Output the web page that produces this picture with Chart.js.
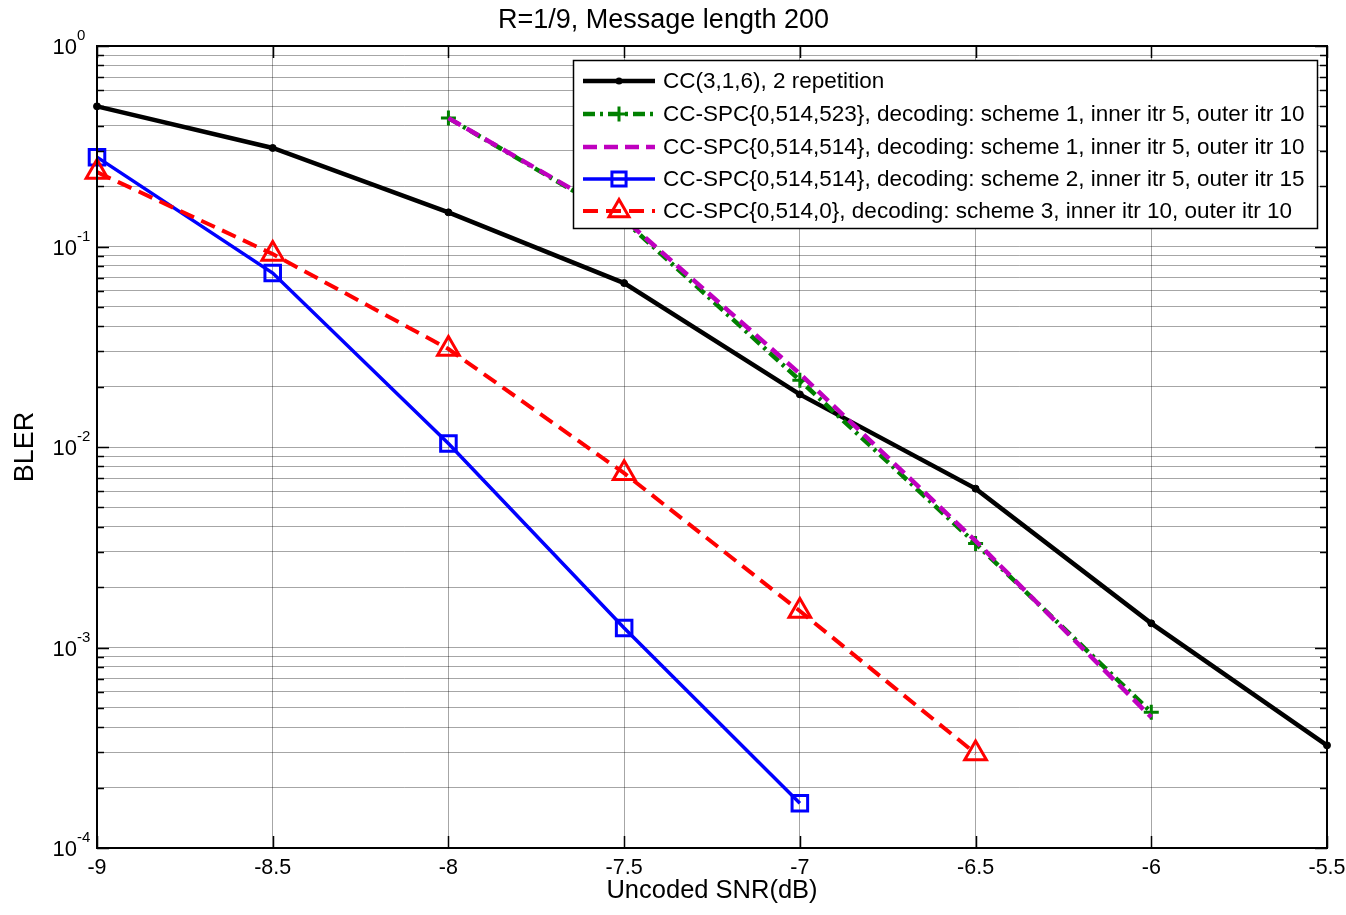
<!DOCTYPE html>
<html>
<head>
<meta charset="utf-8">
<script src="https://cdn.jsdelivr.net/npm/chart.js@4/dist/chart.umd.min.js"></script>
<style>
html,body{margin:0;padding:0;background:#fff;}
#wrap{width:1346px;height:915px;}
</style>
</head>
<body>
<div id="wrap"><canvas id="c" width="1346" height="915"></canvas></div>
<script>
const FONT = '"Liberation Sans", Arial, Helvetica, sans-serif';

// ---- data ----
const titleText = 'R=1/9, Message length 200';
const xTitle = 'Uncoded SNR(dB)';
const yTitle = 'BLER';
const xTicks = [-9, -8.5, -8, -7.5, -7, -6.5, -6, -5.5];
const yDecades = [-4, -3, -2, -1, 0];

const snrCC = [-9, -8.5, -8, -7.5, -7, -6.5, -6, -5.5];
const blerCC = [0.50, 0.31, 0.148, 0.0657, 0.0183, 0.0062, 0.00132, 0.000325];

const snrS1a = [-8, -7.5, -7, -6.5, -6];
const blerS1a = [0.437, 0.135, 0.0215, 0.0033, 0.000475];

const snrS1b = [-8, -7.5, -7, -6.5, -6];
const blerS1b = [0.437, 0.137, 0.0232, 0.0034, 0.000449];

const snrS2 = [-9, -8.5, -8, -7.5, -7];
const blerS2 = [0.279, 0.0737, 0.0104, 0.00125, 0.000167];

const snrS3 = [-9, -8.5, -8, -7.5, -7, -6.5];
const blerS3 = [0.235, 0.0917, 0.0308, 0.0074, 0.00152, 0.000296];

const labels = [
  'CC(3,1,6), 2 repetition',
  'CC-SPC{0,514,523}, decoding: scheme 1, inner itr 5, outer itr 10',
  'CC-SPC{0,514,514}, decoding: scheme 1, inner itr 5, outer itr 10',
  'CC-SPC{0,514,514}, decoding: scheme 2, inner itr 5, outer itr 15',
  'CC-SPC{0,514,0}, decoding: scheme 3, inner itr 10, outer itr 10'
];

function pts(xs, ys){ return xs.map((x,i)=>({x:x, y:ys[i]})); }

const styles = [
  {color:'#000000', width:4.5, dash:[], marker:'dot', r:3.5, order:5},
  {color:'#008000', width:4.5, dash:[12,5,3,5], marker:'plus', r:7.5, order:4},
  {color:'#bf00bf', width:4.5, dash:[14,7], marker:'none', r:0, order:3},
  {color:'#0000ff', width:3.5, dash:[], marker:'square', r:11, order:2},
  {color:'#ff0000', width:4, dash:[15,8], marker:'tri', r:12.5, order:1}
];
const seriesData = [pts(snrCC,blerCC), pts(snrS1a,blerS1a), pts(snrS1b,blerS1b), pts(snrS2,blerS2), pts(snrS3,blerS3)];

function chartStyle(m){
  if (m==='dot') return 'circle';
  if (m==='plus') return 'cross';
  if (m==='square') return 'rect';
  if (m==='tri') return 'triangle';
  return false;
}

const datasets = seriesData.map((d,i)=>{
  const s = styles[i];
  return {
    label: labels[i],
    data: d,
    borderColor: s.color,
    borderWidth: s.width,
    borderDash: s.dash,
    pointStyle: chartStyle(s.marker),
    pointRadius: s.marker==='none'?0:s.r,
    pointBorderColor: s.color,
    pointBackgroundColor: s.marker==='dot'? s.color : 'transparent',
    pointBorderWidth: s.marker==='dot'?1:3,
    tension: 0,
    fill: false,
    clip: false,
    order: s.order
  };
});

function drawMarker(ctx, m, x, y, r, color){
  ctx.save();
  ctx.setLineDash([]);
  ctx.strokeStyle = color; ctx.fillStyle = color; ctx.lineWidth = 3;
  ctx.beginPath();
  if (m==='dot'){ ctx.arc(x,y,r,0,Math.PI*2); ctx.fill(); }
  else if (m==='plus'){ ctx.moveTo(x-r,y); ctx.lineTo(x+r,y); ctx.moveTo(x,y-r); ctx.lineTo(x,y+r); ctx.stroke(); }
  else if (m==='square'){ const s=Math.SQRT1_2*r; ctx.rect(x-s,y-s,2*s,2*s); ctx.stroke(); }
  else if (m==='tri'){
    ctx.moveTo(x, y-r); ctx.lineTo(x+r*Math.sin(Math.PI*2/3), y - r*Math.cos(Math.PI*2/3));
    ctx.lineTo(x-r*Math.sin(Math.PI*2/3), y - r*Math.cos(Math.PI*2/3)); ctx.closePath(); ctx.stroke();
  }
  ctx.restore();
}

const decorPlugin = {
  id: 'decor',
  afterDraw(chart){
    const ctx = chart.ctx;
    const a = chart.chartArea;
    const ys = chart.scales.y, xs = chart.scales.x;
    ctx.save();
    // inner tick marks
    ctx.strokeStyle = '#000'; ctx.lineWidth = 1.5; ctx.setLineDash([]);
    ctx.beginPath();
    xTicks.forEach(v=>{
      const px = Math.round(xs.getPixelForValue(v))+0.5;
      ctx.moveTo(px, a.bottom); ctx.lineTo(px, a.bottom-12);
      ctx.moveTo(px, a.top); ctx.lineTo(px, a.top+12);
    });
    ys.ticks.forEach(t=>{
      const py = Math.round(ys.getPixelForValue(t.value))+0.5;
      const major = Math.abs(Math.log10(t.value) - Math.round(Math.log10(t.value))) < 1e-9;
      const L = major ? 12 : 7;
      ctx.moveTo(a.left, py); ctx.lineTo(a.left+L, py);
      ctx.moveTo(a.right, py); ctx.lineTo(a.right-L, py);
    });
    ctx.stroke();
    // box
    ctx.lineWidth = 2;
    ctx.strokeRect(a.left, a.top, a.right-a.left, a.bottom-a.top);
    // y tick labels (10^n)
    ctx.fillStyle = '#000';
    yDecades.forEach(d=>{
      const py = ys.getPixelForValue(Math.pow(10,d));
      ctx.font = '22px ' + FONT;
      ctx.textAlign = 'right'; ctx.textBaseline = 'middle';
      ctx.fillText('10', 77, py+2);
      ctx.font = '15px ' + FONT;
      ctx.textAlign = 'left';
      ctx.fillText(String(d), 77, py-10);
    });
    // legend
    const lx = 573, ly = 60, lw = 744, lh = 168;
    ctx.fillStyle = '#fff';
    ctx.fillRect(lx, ly, lw, lh);
    ctx.strokeStyle = '#000'; ctx.lineWidth = 1.5;
    ctx.strokeRect(lx+0.5, ly+0.5, lw, lh);
    const rows = [81, 114, 147, 179, 211];
    labels.forEach((lab,i)=>{
      const s = styles[i];
      const y = rows[i];
      ctx.save();
      ctx.strokeStyle = s.color; ctx.lineWidth = s.width; ctx.setLineDash(s.dash);
      ctx.beginPath(); ctx.moveTo(583, y); ctx.lineTo(655, y); ctx.stroke();
      ctx.restore();
      if (s.marker!=='none') drawMarker(ctx, s.marker, 619, y, s.marker==='tri'? 11.5 : (s.marker==='square'?10:s.r), s.color);
      ctx.fillStyle = '#000';
      ctx.font = '22.5px ' + FONT;
      ctx.textAlign = 'left'; ctx.textBaseline = 'middle';
      ctx.fillText(lab, 663, y+1);
    });
    ctx.restore();
  }
};

new Chart(document.getElementById('c'), {
  type: 'line',
  data: { datasets: datasets },
  plugins: [decorPlugin],
  options: {
    responsive: false,
    animation: false,
    parsing: true,
    layout: { padding: { left: 0, right: 19, top: 0, bottom: 0 } },
    plugins: {
      legend: { display: false },
      tooltip: { enabled: false },
      title: {
        display: true, text: titleText, color: '#000',
        font: { family: FONT, size: 27, weight: 'normal' },
        padding: { top: 4, bottom: 9.6 }
      }
    },
    scales: {
      x: {
        type: 'linear', min: -9, max: -5.5,
        afterBuildTicks(scale){ scale.ticks = xTicks.map(v=>({value:v})); },
        afterFit(scale){ scale.height = 67; scale.paddingLeft = 0; scale.paddingRight = 0; },
        ticks: {
          color: '#000', font: { family: FONT, size: 21.5 }, padding: 7,
          callback: (v)=> String(v), maxRotation: 0, autoSkip: false
        },
        grid: { color: 'rgba(0,0,0,0.35)', lineWidth: 1, drawTicks: false },
        border: { display: false },
        title: {
          display: true, text: xTitle, color: '#000',
          font: { family: FONT, size: 25.5 }, padding: { top: 9, bottom: 9 }
        }
      },
      y: {
        type: 'logarithmic', min: 1e-4, max: 1,
        afterBuildTicks(scale){
          const t = [];
          for (let d = -4; d < 0; d++) for (let m = 1; m < 10; m++) t.push({value: m*Math.pow(10,d)});
          t.push({value:1});
          scale.ticks = t;
        },
        afterFit(scale){ scale.width = 97; scale.paddingTop = 0; scale.paddingBottom = 0; },
        ticks: { display: false },
        grid: { color: 'rgba(0,0,0,0.35)', lineWidth: 1, drawTicks: false },
        border: { display: false },
        title: {
          display: true, text: yTitle, color: '#000',
          font: { family: FONT, size: 27 }, padding: { top: 9, bottom: 0 }
        }
      }
    }
  }
});
</script>
</body>
</html>
